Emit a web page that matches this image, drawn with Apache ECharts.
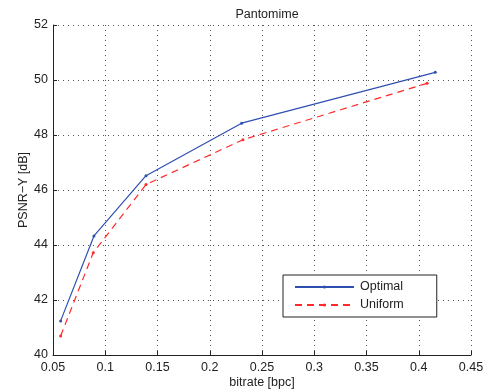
<!DOCTYPE html>
<html>
<head>
<meta charset="utf-8">
<script src="https://cdn.jsdelivr.net/npm/echarts@6/dist/echarts.min.js"></script>
<style>html,body{margin:0;padding:0;background:#fff}#c{width:493px;height:391px}</style>
</head>
<body>
<div id="c"></div>
<script>
const titleText = 'Pantomime';
const xLabel = 'bitrate [bpc]';
const yLabel = 'PSNR\u2212Y [dB]';
const seriesNames = ['Optimal', 'Uniform'];
const optimalX = [0.0573, 0.0892, 0.139, 0.2305, 0.4158];
const optimalY = [41.24, 44.33, 46.52, 48.43, 50.28];
const uniformX = [0.0573, 0.0885, 0.139, 0.2318, 0.408];
const uniformY = [40.69, 43.72, 46.20, 47.83, 49.88];

const font = 'Liberation Sans, Arial, Helvetica, sans-serif';
const fs = 12.5;
const chart = echarts.init(document.getElementById('c'), null, {renderer: 'canvas'});
const pairs = (xs, ys) => xs.map((x, i) => [x, ys[i]]);
const gridLine = {show: true, lineStyle: {color: '#555', type: [1, 4], width: 1}};
chart.setOption({
  animation: false,
  backgroundColor: '#ffffff',
  title: {
    text: titleText, left: 262, top: 3, textAlign: 'center',
    textStyle: {fontFamily: font, fontSize: fs, fontWeight: 'normal', color: '#222'}
  },
  grid: {left: 53, right: 22, top: 25, bottom: 36, containLabel: false, outerBoundsMode: 'none'},
  xAxis: {
    type: 'value', min: 0.05, max: 0.45, interval: 0.05,
    name: xLabel, nameLocation: 'middle', nameGap: 21, nameMoveOverlap: false,
    nameTextStyle: {fontFamily: font, fontSize: fs, color: '#222'},
    axisLine: {show: true, onZero: false, lineStyle: {color: '#222', width: 1}},
    axisTick: {show: true, inside: true, length: 4, lineStyle: {color: '#222'}},
    axisLabel: {fontFamily: font, fontSize: fs, color: '#222', margin: 6,
      formatter: v => String(parseFloat(v.toFixed(2)))},
    splitLine: gridLine
  },
  yAxis: {
    type: 'value', min: 40, max: 52, interval: 2,
    name: yLabel, nameLocation: 'middle', nameGap: 23, nameRotate: 90, nameMoveOverlap: false,
    nameTextStyle: {fontFamily: font, fontSize: fs, color: '#222'},
    axisLine: {show: true, onZero: false, lineStyle: {color: '#222', width: 1}},
    axisTick: {show: true, inside: true, length: 4, lineStyle: {color: '#222'}},
    axisLabel: {fontFamily: font, fontSize: fs, color: '#222', margin: 5},
    splitLine: gridLine
  },
  legend: {
    show: true, orient: 'vertical', left: 283, top: 275,
    itemWidth: 59, itemHeight: 4, itemGap: 4,
    padding: [5, 33, 5, 11],
    backgroundColor: '#fff', borderColor: '#222', borderWidth: 1,
    textStyle: {fontFamily: font, fontSize: fs, color: '#222', lineHeight: 14, padding: [0, 0, 0, 1]},
    data: seriesNames
  },
  series: [
    {
      name: seriesNames[0], type: 'line', data: pairs(optimalX, optimalY),
      symbol: 'circle', symbolSize: 3,
      lineStyle: {color: '#2f4fb0', width: 1.2, type: 'solid'},
      itemStyle: {color: '#2f4fb0'}
    },
    {
      name: seriesNames[1], type: 'line', data: pairs(uniformX, uniformY),
      symbol: 'circle', symbolSize: 3,
      lineStyle: {color: '#ff2a2a', width: 1.2, type: [7, 5]},
      itemStyle: {color: '#ff2a2a'}
    }
  ]
});
</script>
</body>
</html>
